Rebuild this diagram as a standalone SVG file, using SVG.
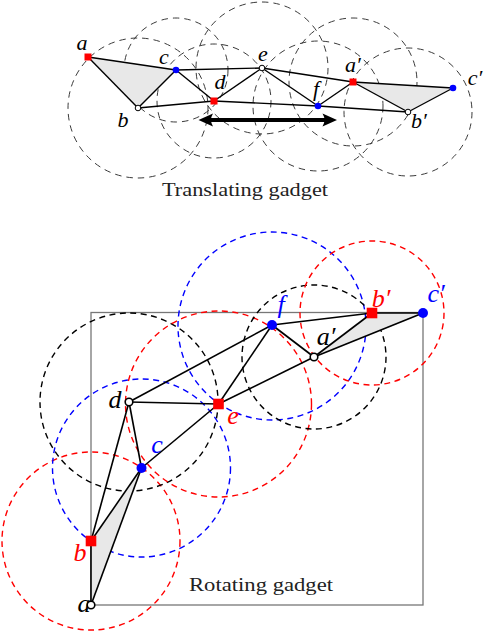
<svg xmlns="http://www.w3.org/2000/svg" width="486" height="633" viewBox="0 0 486 633">
<style>
.bg{fill:#fff}
.tc{fill:none;stroke:#3a3a3a;stroke-width:1;stroke-dasharray:6.5 5}
.tl{stroke:#000;stroke-width:1.4;fill:none}
.bl{stroke:#000;stroke-width:1.6;fill:none}
.sh{fill:#e8e8e8;stroke:none}
.rc{fill:none;stroke:#f00;stroke-width:1.4;stroke-dasharray:6 4.5}
.uc{fill:none;stroke:#00f;stroke-width:1.4;stroke-dasharray:6 4.5}
.kc{fill:none;stroke:#000;stroke-width:1.4;stroke-dasharray:6 4.5}
.red{fill:#f00}
.blue{fill:#00f}
.hol{fill:#fff;stroke:#000}
.lab{font-family:"Liberation Serif",serif;font-style:italic;text-anchor:middle}
.t1{font-size:22px;fill:#000}
.t2{font-size:26px}
.cap{font-family:"Liberation Serif",serif;font-size:18px;fill:#222}
</style>
<rect class="bg" x="0" y="0" width="486" height="633"/>

<g id="translating-gadget">
  <g id="top-circles">
    <circle class="tc" cx="138" cy="108" r="70"/>
    <circle class="tc" cx="176" cy="70" r="52"/>
    <circle class="tc" cx="214" cy="101" r="57"/>
    <circle class="tc" cx="262" cy="68" r="66"/>
    <circle class="tc" cx="318" cy="106" r="65"/>
    <circle class="tc" cx="353" cy="82" r="64"/>
    <circle class="tc" cx="408" cy="112" r="64"/>
  </g>
  <polygon class="sh" points="88,57 176,70 138,108"/>
  <polygon class="sh" points="353,82 453,88 408,112"/>
  <g id="top-connectors">
    <line class="tl" x1="88" y1="57" x2="176" y2="70"/>
    <line class="tl" x1="88" y1="57" x2="138" y2="108"/>
    <line class="tl" x1="138" y1="108" x2="176" y2="70"/>
    <line class="tl" x1="176" y1="70" x2="262" y2="68"/>
    <line class="tl" x1="176" y1="70" x2="214" y2="101"/>
    <line class="tl" x1="138" y1="108" x2="214" y2="101"/>
    <line class="tl" x1="214" y1="101" x2="262" y2="68"/>
    <line class="tl" x1="214" y1="101" x2="318" y2="106"/>
    <line class="tl" x1="262" y1="68" x2="318" y2="106"/>
    <line class="tl" x1="262" y1="68" x2="353" y2="82"/>
    <line class="tl" x1="318" y1="106" x2="353" y2="82"/>
    <line class="tl" x1="318" y1="106" x2="408" y2="112"/>
    <line class="tl" x1="353" y1="82" x2="408" y2="112"/>
    <line class="tl" x1="353" y1="82" x2="453" y2="88"/>
    <line class="tl" x1="408" y1="112" x2="453" y2="88"/>
    <g id="translate-arrow">
      <line x1="208" y1="120" x2="327" y2="120" stroke="#000" stroke-width="4"/>
      <path d="M198.5,120 L213,113.5 Q209,120 213,126.5 Z" fill="#000"/>
      <path d="M337,120 L322.5,113.5 Q326.5,120 322.5,126.5 Z" fill="#000"/>
    </g>
  </g>
  <g id="t-a"><rect class="red" x="84.5" y="53.5" width="7" height="7"/><text class="lab t1" x="82" y="50">a</text></g>
  <g id="t-b"><circle class="hol" cx="138" cy="108" r="2.8" stroke-width="1"/><text class="lab t1" x="123" y="127">b</text></g>
  <g id="t-c"><circle class="blue" cx="176" cy="70" r="3.3"/><text class="lab t1" x="164" y="64">c</text></g>
  <g id="t-d"><rect class="red" x="210.5" y="97.5" width="7" height="7"/><text class="lab t1" x="220" y="89">d</text></g>
  <g id="t-e"><circle class="hol" cx="262" cy="68" r="2.8" stroke-width="1"/><text class="lab t1" x="263" y="61">e</text></g>
  <g id="t-f"><circle class="blue" cx="318" cy="106" r="3.3"/><text class="lab t1" x="316" y="96">f</text></g>
  <g id="t-a2"><rect class="red" x="349.5" y="78.5" width="7" height="7"/><text class="lab t1" x="353" y="72">a′</text></g>
  <g id="t-b2"><circle class="hol" cx="408" cy="112" r="2.8" stroke-width="1"/><text class="lab t1" x="419" y="128">b′</text></g>
  <g id="t-c2"><circle class="blue" cx="453" cy="88" r="3.3"/><text class="lab t1" x="475" y="85">c′</text></g>
  <text class="cap" x="162" y="196" textLength="166" lengthAdjust="spacingAndGlyphs">Translating gadget</text>
</g>

<g id="rotating-gadget">
  <rect id="frame" x="91" y="312.5" width="332" height="292.5" fill="none" stroke="#777" stroke-width="1.3"/>
  <g id="bottom-circles">
    <circle class="rc" cx="91" cy="541" r="89"/>
    <circle class="uc" cx="141.5" cy="468" r="89"/>
    <circle class="kc" cx="129" cy="402" r="89"/>
    <circle class="rc" cx="218.5" cy="404" r="93"/>
    <circle class="uc" cx="272" cy="326" r="94"/>
    <circle class="kc" cx="314" cy="357" r="72"/>
    <circle class="rc" cx="372" cy="313" r="72"/>
  </g>
  <polygon class="sh" points="91,605 91,541 141.5,468"/>
  <polygon class="sh" points="314,357 372,313 423,313"/>
  <g id="bottom-connectors">
    <line class="bl" x1="91" y1="605" x2="91" y2="541"/>
    <line class="bl" x1="91" y1="605" x2="141.5" y2="468"/>
    <line class="bl" x1="91" y1="541" x2="141.5" y2="468"/>
    <line class="bl" x1="91" y1="541" x2="129" y2="402"/>
    <line class="bl" x1="141.5" y1="468" x2="129" y2="402"/>
    <line class="bl" x1="141.5" y1="468" x2="218.5" y2="404"/>
    <line class="bl" x1="129" y1="402" x2="218.5" y2="404"/>
    <line class="bl" x1="129" y1="402" x2="272" y2="325"/>
    <line class="bl" x1="218.5" y1="404" x2="272" y2="325"/>
    <line class="bl" x1="218.5" y1="404" x2="314" y2="357"/>
    <line class="bl" x1="272" y1="325" x2="314" y2="357"/>
    <line class="bl" x1="272" y1="325" x2="372" y2="313"/>
    <line class="bl" x1="314" y1="357" x2="372" y2="313"/>
    <line class="bl" x1="314" y1="357" x2="423" y2="313"/>
    <line class="bl" x1="372" y1="313" x2="423" y2="313"/>
  </g>
  <g id="r-a"><text class="lab t2" x="84" y="612" fill="#000">a</text><circle class="hol" cx="91" cy="605" r="3.8" stroke-width="1.6"/></g>
  <g id="r-b"><rect class="red" x="85.7" y="535.7" width="10.6" height="10.6"/><text class="lab t2" x="80" y="561" fill="#f00">b</text></g>
  <g id="r-c"><circle class="blue" cx="141.5" cy="468" r="5"/><text class="lab t2" x="157" y="453" fill="#00f">c</text></g>
  <g id="r-d"><circle class="hol" cx="129" cy="402" r="3.8" stroke-width="1.6"/><text class="lab t2" x="115" y="408" fill="#000">d</text></g>
  <g id="r-e"><rect class="red" x="213.2" y="398.7" width="10.6" height="10.6"/><text class="lab t2" x="233" y="424" fill="#f00">e</text></g>
  <g id="r-f"><circle class="blue" cx="272" cy="325" r="5"/><text class="lab t2" x="281" y="313" fill="#00f">f</text></g>
  <g id="r-a2"><circle class="hol" cx="314" cy="357" r="3.8" stroke-width="1.6"/><text class="lab t2" x="326" y="345" fill="#000">a′</text></g>
  <g id="r-b2"><rect class="red" x="366.7" y="307.7" width="10.6" height="10.6"/><text class="lab t2" x="381" y="307" fill="#f00">b′</text></g>
  <g id="r-c2"><circle class="blue" cx="423" cy="313" r="5"/><text class="lab t2" x="436" y="302" fill="#00f">c′</text></g>
  <text class="cap" x="189" y="591" textLength="144" lengthAdjust="spacingAndGlyphs">Rotating gadget</text>
</g>
</svg>
